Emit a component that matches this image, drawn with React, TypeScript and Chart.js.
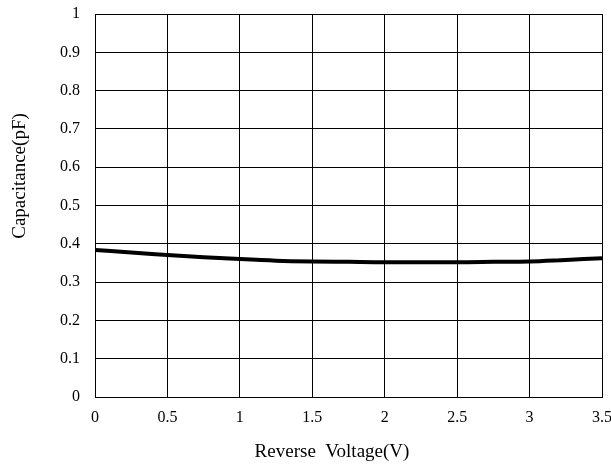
import { useEffect, useRef } from 'react';
import { Chart, registerables } from 'chart.js';

Chart.register(...registerables);

// reverse voltage (V) and measured capacitance (pF)
const voltages = [0, 0.25, 0.5, 0.75, 1, 1.25, 1.5, 1.75, 2, 2.25, 2.5, 2.75, 3, 3.25, 3.5];
const capacitance = [0.384, 0.377, 0.371, 0.365, 0.36, 0.356, 0.354, 0.353, 0.352, 0.352, 0.352, 0.353, 0.354, 0.358, 0.362];

const xTickLabels = ['0', '0.5', '1', '1.5', '2', '2.5', '3', '3.5'];
const yTickLabels = ['0', '0.1', '0.2', '0.3', '0.4', '0.5', '0.6', '0.7', '0.8', '0.9', '1'];

const xTitle = 'Reverse  Voltage(V)';
const yTitle = 'Capacitance(pF)';

const family = '"Liberation Serif", "Times New Roman", serif';
const tickFont = { family, size: 16 };

// axis titles sit off-centre in the original, so draw them by hand
const axisTitles = {
  id: 'axisTitles',
  afterDraw(chart: any) {
    const ctx = chart.ctx;
    ctx.save();
    ctx.fillStyle = '#000';
    ctx.font = `19px ${family}`;
    ctx.textAlign = 'center';
    ctx.textBaseline = 'alphabetic';
    ctx.fillText(xTitle, 332, 457);
    ctx.translate(25, 176);
    ctx.rotate(-Math.PI / 2);
    ctx.fillText(yTitle, 0, 0);
    ctx.restore();
  }
};

export default function App() {
  const canvasRef = useRef<HTMLCanvasElement | null>(null);

  useEffect(() => {
    if (!canvasRef.current) return;
    const chart = new Chart(canvasRef.current, {
      type: 'line',
      data: {
        datasets: [{
          data: voltages.map((v, i) => ({ x: v, y: capacitance[i] })),
          borderColor: '#000',
          borderWidth: 4,
          pointRadius: 0,
          cubicInterpolationMode: 'monotone',
          fill: false
        }]
      },
      options: {
        animation: false,
        responsive: false,
        devicePixelRatio: 1,
        layout: { padding: { top: 14, right: 9, left: 0, bottom: 0 } },
        plugins: { legend: { display: false }, tooltip: { enabled: false } },
        scales: {
          x: {
            type: 'linear',
            min: 0,
            max: 3.5,
            grid: { color: '#000', lineWidth: 1, drawTicks: false },
            border: { color: '#000', width: 1 },
            ticks: {
              stepSize: 0.5,
              padding: 11,
              color: '#000',
              font: tickFont,
              maxRotation: 0,
              callback: (v: any) => xTickLabels[Math.round(Number(v) / 0.5)] ?? ''
            },
            afterFit: (s: any) => {
              s.height = 69;
              s.paddingLeft = 0;
              s.paddingRight = 0;
            }
          },
          y: {
            type: 'linear',
            min: 0,
            max: 1,
            grid: { color: '#000', lineWidth: 1, drawTicks: false },
            border: { color: '#000', width: 1 },
            ticks: {
              stepSize: 0.1,
              padding: 15,
              color: '#000',
              font: tickFont,
              callback: (v: any) => yTickLabels[Math.round(Number(v) * 10)] ?? ''
            },
            afterFit: (s: any) => {
              s.width = 95;
              s.paddingTop = 0;
              s.paddingBottom = 0;
            }
          }
        }
      },
      plugins: [axisTitles]
    });
    return () => chart.destroy();
  }, []);

  return (
    <div style={{ position: 'fixed', left: 0, top: 0, width: 611, height: 466, background: '#fff' }}>
      <canvas ref={canvasRef} width={611} height={466}></canvas>
    </div>
  );
}
